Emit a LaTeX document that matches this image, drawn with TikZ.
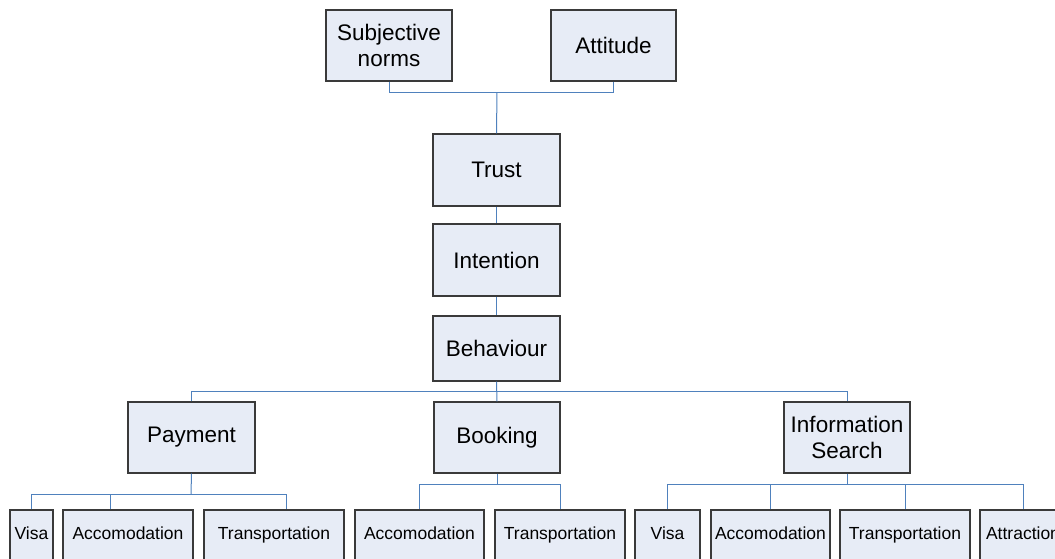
\documentclass[tikz,border=0pt]{standalone}
\usepackage{fontspec}
\setmainfont{Liberation Sans}
\usepackage{tikz}

\definecolor{boxfill}{HTML}{E7ECF6}
\definecolor{boxline}{HTML}{3A3A3A}
\definecolor{linkblue}{HTML}{4F81BD}

\tikzset{
  box/.style={draw=boxline, line width=1.2pt, fill=boxfill, inner sep=0pt,
              align=center, font=\fontsize{22.5pt}{26pt}\selectfont},
  leaf/.style={box, minimum height=50pt, text height=12.5pt, text depth=3.5pt,
               font=\fontsize{17.5pt}{20pt}\selectfont},
  link/.style={draw=linkblue, line width=1pt}
}

\begin{document}
\begin{tikzpicture}[x=1pt, y=-1pt]
                \clip (0,0) rectangle (1055,558);

                % Antecedents
                \node[box, minimum width=126pt, minimum height=71pt] (norms) at (389,45.5) {Subjective\\norms};
                \node[box, minimum width=125pt, minimum height=71pt] (attitude) at (613.5,45.5) {Attitude};

                % Main chain
                \node[box, minimum width=127pt, minimum height=72pt] (trust) at (496.5,170) {Trust};
                \node[box, minimum width=127pt, minimum height=72pt] (intention) at (496.5,260) {Intention};
                \node[box, minimum width=127pt, minimum height=65pt] (behaviour) at (496.5,348.5) {Behaviour};

                % Behaviour types
                \node[box, minimum width=127pt, minimum height=71pt] (payment) at (191.5,437.5) {Payment};
                \node[box, minimum width=126pt, minimum height=71pt] (booking) at (497,437.5) {Booking};
                \node[box, minimum width=126pt, minimum height=71pt] (search) at (847,437.5) {Information\\Search};

                % Payment items
                \node[leaf, minimum width=43pt] (payvisa) at (31.5,535) {Visa};
                \node[leaf, minimum width=130pt] (payacco) at (128,535) {Accomodation};
                \node[leaf, minimum width=140pt] (paytrans) at (274,535) {Transportation};

                % Booking items
                \node[leaf, minimum width=129pt] (bookacco) at (419.5,535) {Accomodation};
                \node[leaf, minimum width=130pt] (booktrans) at (560,535) {Transportation};

                % Search items
                \node[leaf, minimum width=65pt] (searchvisa) at (667.5,535) {Visa};
                \node[leaf, minimum width=119pt] (searchacco) at (770.5,535) {Accomodation};
                \node[leaf, minimum width=130pt] (searchtrans) at (905,535) {Transportation};
                \node[leaf, minimum width=86pt] (searchattr) at (1023,535) {Attraction};

                % Links at the top
                \coordinate (topjoin) at (497,92);
                \draw[link] (norms.south) -- (norms.south |- topjoin) -- (attitude.south |- topjoin) -- (attitude.south);
                \draw[link] (topjoin) -- (trust.north);
                \draw[link] (trust.south) -- (intention.north);
                \draw[link] (intention.south) -- (behaviour.north);

                % Links to behaviour types
                \coordinate (midjoin) at (497,391);
                \draw[link] (behaviour.south) -- (booking.north);
                \draw[link] (payment.north) -- (payment.north |- midjoin) -- (search.north |- midjoin) -- (search.north);

                % Links to items
                \coordinate (payjoin) at (191,494);
                \coordinate (paytranstop) at ([xshift=12pt]paytrans.north);
                \coordinate (payaccotop) at ([xshift=-18pt]payacco.north);
                \draw[link] (payment.south) -- (payjoin);
                \draw[link] (payvisa.north) -- (payvisa.north |- payjoin) -- (paytranstop |- payjoin) -- (paytranstop);
                \draw[link] (payaccotop) -- (payaccotop |- payjoin);

                \coordinate (bookjoin) at (497,484);
                \draw[link] (booking.south) -- (bookjoin);
                \draw[link] (bookacco.north) -- (bookacco.north |- bookjoin) -- (booktrans.north |- bookjoin) -- (booktrans.north);

                \coordinate (searchjoin) at (847,484);
                \draw[link] (search.south) -- (searchjoin);
                \draw[link] (searchvisa.north) -- (searchvisa.north |- searchjoin) -- (searchattr.north |- searchjoin) -- (searchattr.north);
                \draw[link] (searchacco.north) -- (searchacco.north |- searchjoin);
                \draw[link] (searchtrans.north) -- (searchtrans.north |- searchjoin);
\end{tikzpicture}
\end{document}
